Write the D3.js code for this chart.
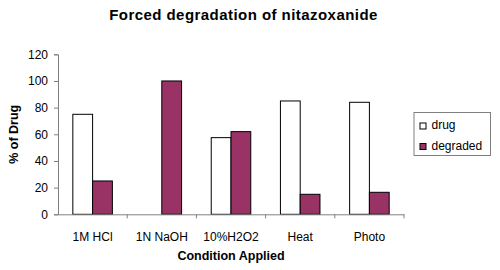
<!DOCTYPE html>
<html lang="en">
<head>
    <meta charset="UTF-8">
    <title>Forced degradation of nitazoxanide</title>
    <script src="https://d3js.org/d3.v7.min.js"></script>
    <style>
        body { margin: 0; background: #fff; }
        svg { font-family: 'Liberation Sans', Arial, sans-serif; }
    </style>
</head>
<body>
    <div id="chart"></div>
    <script>
        // data
        var conditions = ['1M HCl', '1N NaOH', '10%H2O2', 'Heat', 'Photo'];
        var drug = [75, 0, 57.5, 85, 84];
        var degraded = [25, 100, 62, 15, 16.5];
        var seriesNames = ['drug', 'degraded'];
        var seriesColors = ['#ffffff', '#993366'];
        var yTicks = [0, 20, 40, 60, 80, 100, 120];

        var width = 500, height = 270;
        var plotLeft = 58, plotRight = 404, plotTop = 54.3, plotBottom = 214.3;

        var svg = d3.select('#chart').append('svg')
            .attr('width', width)
            .attr('height', height);

        // title
        svg.append('text')
            .attr('x', 243.5)
            .attr('y', 20)
            .attr('text-anchor', 'middle')
            .style('font-size', '15px')
            .style('font-weight', 'bold')
            .style('letter-spacing', '0.45px')
            .text('Forced degradation of nitazoxanide');

        var x = d3.scaleBand()
            .domain(conditions)
            .range([plotLeft, plotRight]);

        var x1 = d3.scaleBand()
            .domain(seriesNames)
            .range([0, x.bandwidth()])
            .paddingInner(0)
            .paddingOuter(0.75);

        var y = d3.scaleLinear()
            .domain([0, 120])
            .range([plotBottom, plotTop]);

        var rows = conditions.map(function(c, i) {
            return { cond: c, values: [drug[i], degraded[i]] };
        });

        // bars
        var groups = svg.append('g').selectAll('g')
            .data(rows)
            .join('g')
            .attr('transform', d => 'translate(' + x(d.cond) + ',0)');

        groups.selectAll('rect')
            .data(d => d.values.map((v, j) => ({ name: seriesNames[j], value: v, color: seriesColors[j] })).filter(b => b.value > 0))
            .join('rect')
            .attr('x', d => x1(d.name))
            .attr('y', d => y(d.value))
            .attr('width', x1.bandwidth())
            .attr('height', d => plotBottom - y(d.value))
            .attr('fill', d => d.color)
            .attr('stroke', '#000')
            .attr('stroke-width', 1);

        // y axis
        var yAxis = svg.append('g')
            .attr('transform', 'translate(' + plotLeft + ',0)')
            .call(d3.axisLeft(y).tickValues(yTicks).tickSize(4).tickPadding(6));
        yAxis.select('.domain').attr('stroke', '#808080');
        yAxis.selectAll('.tick line').attr('stroke', '#808080');
        yAxis.selectAll('text').style('font-size', '12px').attr('fill', '#000');

        // x axis with ticks between categories
        var xAxis = svg.append('g')
            .attr('transform', 'translate(0,' + plotBottom + ')')
            .call(d3.axisBottom(x).tickSize(0).tickPadding(18));
        xAxis.select('.domain').attr('stroke', '#808080');
        xAxis.selectAll('text').style('font-size', '12px').attr('fill', '#000');
        xAxis.selectAll('.sep')
            .data(conditions)
            .join('line')
            .attr('class', 'sep')
            .attr('x1', d => x(d) + x.step())
            .attr('x2', d => x(d) + x.step())
            .attr('y1', 0)
            .attr('y2', 4)
            .attr('stroke', '#808080');

        // axis titles
        svg.append('text')
            .attr('x', 231)
            .attr('y', 260)
            .attr('text-anchor', 'middle')
            .style('font-size', '12.5px')
            .style('font-weight', 'bold')
            .text('Condition Applied');

        svg.append('text')
            .attr('transform', 'translate(18,' + ((plotTop + plotBottom) / 2) + ') rotate(-90)')
            .attr('text-anchor', 'middle')
            .style('font-size', '12.5px')
            .style('font-weight', 'bold')
            .text('% of Drug');

        // legend
        var legend = svg.append('g').attr('transform', 'translate(414,112.5)');
        legend.append('rect')
            .attr('width', 76.5)
            .attr('height', 43)
            .attr('fill', '#fff')
            .attr('stroke', '#808080');
        seriesNames.forEach(function(name, i) {
            legend.append('rect')
                .attr('x', 6)
                .attr('y', 10.5 + i * 20.5)
                .attr('width', 6)
                .attr('height', 6)
                .attr('fill', seriesColors[i])
                .attr('stroke', '#000');
            legend.append('text')
                .attr('x', 17.5)
                .attr('y', 16.5 + i * 20.5)
                .style('font-size', '12px')
                .text(name);
        });
    </script>
</body>
</html>
